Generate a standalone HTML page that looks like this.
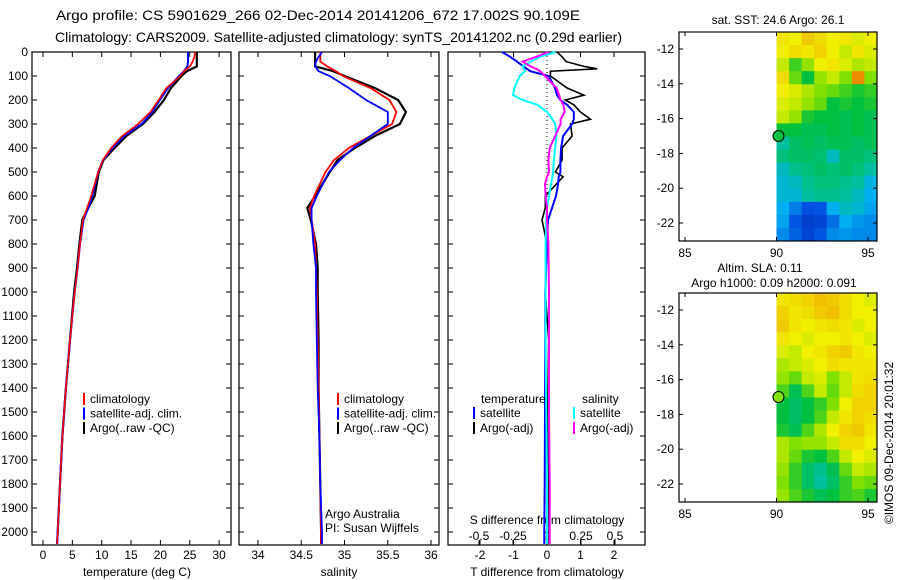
<!DOCTYPE html>
<html><head><meta charset="utf-8"><style>
body{margin:0;background:#fff;}
svg{display:block;font-family:"Liberation Sans",sans-serif;}
text{font-size:12px;fill:#000;}
</style></head><body>
<svg id="chart" width="900" height="580" viewBox="0 0 900 580" xmlns="http://www.w3.org/2000/svg">
<text x="56" y="20" textLength="524" lengthAdjust="spacingAndGlyphs" style="font-size:14px">Argo profile: CS 5901629_266 02-Dec-2014 20141206_672 17.002S 90.109E</text>
<text x="55" y="42" textLength="567" lengthAdjust="spacingAndGlyphs" style="font-size:14px">Climatology: CARS2009. Satellite-adjusted climatology: synTS_20141202.nc (0.29d earlier)</text>
<text x="137" y="576" text-anchor="middle">temperature (deg C)</text>
<text x="339" y="576" text-anchor="middle">salinity</text>
<text x="547" y="576" text-anchor="middle">T difference from climatology</text>
<text x="547" y="524" text-anchor="middle">S difference from climatology</text>
<text x="325" y="518">Argo Australia</text>
<text x="325" y="532">PI: Susan Wijffels</text>
<text x="778" y="24" text-anchor="middle">sat. SST: 24.6 Argo: 26.1</text>
<text x="760" y="272" text-anchor="middle">Altim. SLA: 0.11</text>
<text x="774" y="287" text-anchor="middle">Argo h1000: 0.09 h2000: 0.091</text>
<text transform="translate(893,443) rotate(-90)" text-anchor="middle">©IMOS 09-Dec-2014 20:01:32</text>
<g id="g"></g>
</svg>
<script>
// ---- data ----
const depths = [0,20,40,60,80,100,150,200,250,300,350,400,450,500,600,650,700,800,900,1000,1200,1400,1600,1800,2000,2050];
const tempClim = [25.9,25.8,25.5,25.0,24.0,23.4,21.0,19.7,18.3,16.2,13.5,11.6,10.2,9.4,8.2,7.5,6.8,6.3,5.9,5.4,4.6,3.9,3.3,2.9,2.5,2.4];
const tempSat  = [24.7,24.7,24.7,24.6,24.0,23.2,21.3,19.9,18.6,16.8,13.8,11.8,10.2,9.4,8.4,7.7,6.9,6.3,5.9,5.4,4.6,3.9,3.3,2.9,2.5,2.4];
const tempArgo = [26.2,26.2,26.2,26.2,24.5,23.6,21.8,20.6,19.0,17.0,14.2,12.2,10.3,9.5,8.8,7.7,6.7,6.2,5.8,5.3,4.6,3.9,3.3,2.9,2.5,2.4];
const salClim = [34.72,34.72,34.72,34.80,34.90,34.98,35.30,35.52,35.60,35.55,35.30,35.05,34.88,34.78,34.65,34.60,34.62,34.66,34.67,34.68,34.69,34.70,34.71,34.72,34.73,34.73];
const salSat  = [34.74,34.70,34.67,34.66,34.70,34.83,35.05,35.25,35.50,35.50,35.30,35.10,34.95,34.82,34.68,34.62,34.62,34.64,34.67,34.67,34.68,34.69,34.71,34.72,34.74,34.74];
const salArgo = [34.66,34.66,34.66,34.66,34.87,35.00,35.35,35.62,35.71,35.64,35.35,35.12,34.92,34.83,34.66,34.57,34.61,34.67,34.69,34.69,34.70,34.70,34.71,34.72,34.73,34.73];
const dDepths = [0,20,40,60,70,80,100,150,180,200,220,250,280,300,350,400,450,500,520,550,600,650,700,800,1000,1200,1500,1800,2000,2050];
const dTSat  = [-1.34,-1.1,-0.9,-0.7,-0.6,-0.5,0.05,0.24,0.3,0.4,0.6,0.8,0.8,0.75,0.48,0.42,0.4,0.4,0.35,0.33,0.27,0.15,0.03,0.0,-0.05,-0.05,-0.06,-0.07,-0.08,-0.08];
const dTArgo = [0.3,0.45,0.57,1.1,1.5,0.1,0.1,0.6,1.1,0.55,0.8,1.0,1.3,0.7,0.75,0.45,0.45,0.25,0.48,0.28,-0.05,-0.05,-0.15,0.0,-0.05,0.05,0.02,0.05,0.06,0.06];
const dSSat  = [0.06,-0.05,-0.12,-0.18,-0.17,-0.16,-0.2,-0.24,-0.25,-0.18,-0.07,0.0,0.04,0.06,0.07,0.06,0.05,0.045,0.04,0.03,0.015,0.0,-0.005,-0.01,-0.01,-0.01,-0.005,0.0,0.0,0.0];
const dSArgo = [0.01,-0.08,-0.18,-0.12,-0.08,-0.05,-0.015,0.07,0.09,0.1,0.12,0.13,0.1,0.1,0.06,0.02,0.01,0.015,0.0,-0.015,-0.01,0.0,0.0,0.01,0.015,0.015,0.015,0.02,0.02,0.02];
const depthTicks = [0,100,200,300,400,500,600,700,800,900,1000,1100,1200,1300,1400,1500,1600,1700,1800,1900,2000];
const tempTicks = [0,5,10,15,20,25,30];
const salTicks = [34,34.5,35,35.5,36];
const salTickLabels = ["34","34.5","35","35.5","36"];
const dTTicks = [-2,-1,0,1,2];
const dSTicks = [-0.5,-0.25,0,0.25,0.5];
const dSTickLabels = ["-0.5","-0.25","0","0.25","0.5"];
const latTicks = [-12,-14,-16,-18,-20,-22];
const lonTicks = [85,90,95];
const sstGrid = [
[0.72,0.70,0.78,0.74,0.70,0.72,0.68,0.70],
[0.70,0.74,0.72,0.76,0.70,0.66,0.72,0.68],
[0.66,0.55,0.62,0.70,0.72,0.68,0.64,0.66],
[0.74,0.58,0.50,0.62,0.66,0.60,0.88,0.60],
[0.70,0.68,0.64,0.60,0.58,0.55,0.52,0.54],
[0.68,0.66,0.62,0.58,0.50,0.52,0.50,0.52],
[0.66,0.62,0.52,0.50,0.50,0.48,0.50,0.48],
[0.50,0.50,0.48,0.48,0.50,0.48,0.50,0.48],
[0.40,0.46,0.48,0.46,0.48,0.48,0.46,0.48],
[0.44,0.46,0.46,0.45,0.36,0.46,0.46,0.44],
[0.36,0.42,0.44,0.46,0.44,0.46,0.44,0.40],
[0.34,0.36,0.42,0.44,0.44,0.42,0.40,0.32],
[0.34,0.34,0.40,0.42,0.42,0.40,0.36,0.30],
[0.30,0.22,0.15,0.16,0.30,0.36,0.34,0.28],
[0.28,0.16,0.10,0.12,0.20,0.30,0.26,0.24],
[0.24,0.18,0.12,0.16,0.24,0.26,0.24,0.24]];
const slaGrid = [
[0.72,0.74,0.76,0.80,0.78,0.74,0.70,0.68],
[0.76,0.72,0.74,0.78,0.80,0.74,0.70,0.70],
[0.78,0.72,0.70,0.72,0.74,0.72,0.68,0.70],
[0.72,0.70,0.68,0.70,0.70,0.72,0.70,0.68],
[0.68,0.66,0.70,0.72,0.76,0.78,0.72,0.70],
[0.64,0.66,0.68,0.70,0.74,0.72,0.72,0.72],
[0.62,0.58,0.66,0.68,0.60,0.66,0.72,0.74],
[0.56,0.48,0.56,0.66,0.58,0.66,0.74,0.76],
[0.50,0.46,0.50,0.54,0.60,0.70,0.76,0.76],
[0.50,0.46,0.50,0.56,0.66,0.72,0.76,0.74],
[0.52,0.48,0.56,0.64,0.70,0.76,0.78,0.72],
[0.64,0.60,0.62,0.62,0.66,0.74,0.74,0.70],
[0.64,0.58,0.52,0.50,0.56,0.66,0.70,0.68],
[0.62,0.54,0.46,0.42,0.48,0.58,0.66,0.64],
[0.60,0.54,0.46,0.40,0.46,0.54,0.60,0.58],
[0.62,0.56,0.52,0.48,0.50,0.54,0.56,0.52]];
const floatLon = 90.109, floatLat = -17.002;

// ---- helpers ----
const NS="http://www.w3.org/2000/svg";
const G=document.getElementById('g');
function mk(tag,attrs,parent){const e=document.createElementNS(NS,tag);for(const k in attrs)e.setAttribute(k,attrs[k]);(parent||G).appendChild(e);return e;}
const yD = d => 52 + d*0.24;
const PB = 545;
const panels = [
 {x0:32,x1:231, sx:v=>43+v*5.87, name:'temperature-panel'},
 {x0:239,x1:439, sx:v=>258+(v-34)*86.5, name:'salinity-panel'},
 {x0:448,x1:645, sx:v=>547+v*33.5, name:'difference-panel'}];
const sxS = v=>547+v*136;

function frame(p){
  const r=mk('rect',{x:p.x0,y:52,width:p.x1-p.x0,height:PB-52,fill:'none',stroke:'#000','stroke-width':1.2});
  
  
  depthTicks.forEach(d=>{
    mk('line',{x1:p.x0,x2:p.x0+5,y1:yD(d),y2:yD(d),stroke:'#000'});
    mk('line',{x1:p.x1-5,x2:p.x1,y1:yD(d),y2:yD(d),stroke:'#000'});
  });
}
panels.forEach(frame);
depthTicks.forEach(d=>{
  const t=mk('text',{x:28,y:yD(d)+4,'text-anchor':'end'});t.textContent=d;
  
  
});
function xticks(p,ticks,labels,ty){
  ticks.forEach((v,i)=>{const x=p.sx(v);
    mk('line',{x1:x,x2:x,y1:PB,y2:PB-5,stroke:'#000'});
    mk('line',{x1:x,x2:x,y1:52,y2:57,stroke:'#000'});
    const t=mk('text',{x:x,y:ty,'text-anchor':'middle'});t.textContent=labels?labels[i]:v;
    
    
  });
}
xticks(panels[0],tempTicks,null,559);
xticks(panels[1],salTicks,salTickLabels,559);
xticks(panels[2],dTTicks,null,559);
dSTicks.forEach((v,i)=>{const x=sxS(v);
  mk('line',{x1:x,x2:x,y1:PB,y2:PB-5,stroke:'#000'});
  const t=mk('text',{x:x,y:540,'text-anchor':'middle'});t.textContent=dSTickLabels[i];
  
  
});
const zl=mk('line',{x1:547,x2:547,y1:52,y2:200,stroke:'#000','stroke-dasharray':'1,3'});



function series(dep,vals,sx,color,w,name){
  const pts=dep.map((d,i)=>sx(vals[i]).toFixed(1)+','+yD(d).toFixed(1)).join(' ');
  const l=mk('polyline',{points:pts,fill:'none',stroke:color,'stroke-width':w});
  
  
}
series(depths,tempArgo,panels[0].sx,'#000',2.2,'temp-argo-line');
series(depths,tempSat,panels[0].sx,'#0000ff',2,'temp-satellite-line');
series(depths,tempClim,panels[0].sx,'#ff0000',1.6,'temp-climatology-line');
series(depths,salArgo,panels[1].sx,'#000',2.2,'sal-argo-line');
series(depths,salClim,panels[1].sx,'#ff0000',1.8,'sal-climatology-line');
series(depths,salSat,panels[1].sx,'#0000ff',1.8,'sal-satellite-line');
series(dDepths,dTArgo,panels[2].sx,'#000',1.6,'tdiff-argo-line');
series(dDepths,dTSat,panels[2].sx,'#0000ff',2,'tdiff-satellite-line');
series(dDepths,dSSat,sxS,'#00ffff',2,'sdiff-satellite-line');
series(dDepths,dSArgo,sxS,'#ff00ff',2,'sdiff-argo-line');

function leg(x,y,color,label){
  const b=mk('rect',{x:x,y:y-10,width:2,height:12,fill:color});
  
  
  const t=mk('text',{x:x+7,y:y});t.textContent=label;
  
  
}
[[83,'#f00','climatology'],[83,'#00f','satellite-adj. clim.'],[83,'#000','Argo(..raw -QC)']].forEach((e,i)=>leg(e[0],403+i*14.5,e[1],e[2]));
[[337,'#f00','climatology'],[337,'#00f','satellite-adj. clim.'],[337,'#000','Argo(..raw -QC)']].forEach((e,i)=>leg(e[0],403+i*14.5,e[1],e[2]));
let tt=mk('text',{x:481,y:403});tt.textContent='temperature';


tt=mk('text',{x:582,y:403});tt.textContent='salinity';


leg(473,417,'#00f','satellite');leg(473,432,'#000','Argo(-adj)');
leg(573,417,'#0ff','satellite');leg(573,432,'#f0f','Argo(-adj)');

const stops=[[0,[0,32,160]],[0.15,[0,80,224]],[0.3,[0,176,240]],[0.4,[0,192,160]],[0.5,[0,192,64]],[0.6,[128,224,0]],[0.7,[240,240,0]],[0.8,[240,192,0]],[0.9,[240,128,0]],[1,[208,0,0]]];
function cmap(v){for(let i=1;i<stops.length;i++){if(v<=stops[i][0]){const a=stops[i-1],b=stops[i],f=(v-a[0])/(b[0]-a[0]);return 'rgb('+a[1].map((c,k)=>Math.round(c+(b[1][k]-c)*f)).join(',')+')';}}return 'rgb(208,0,0)';}

function map(y0,y1,grid,name){
  const x0=679,x1=877;
  const sx=lon=>685+(lon-85)*18.3;
  const sy=lat=>y0+17+(-12-lat)*17.4;
  const cw=(x1-sx(90))/grid[0].length, ch=(y1-y0)/grid.length;
  grid.forEach((row,r)=>row.forEach((v,c)=>{
    const cell=mk('rect',{x:sx(90)+c*cw,y:y0+r*ch,width:cw+0.5,height:ch+0.5,fill:cmap(v)});
    
    
  }));
  const f=mk('rect',{x:x0,y:y0,width:x1-x0,height:y1-y0,fill:'none',stroke:'#000','stroke-width':1.2});
  
  
  latTicks.forEach(l=>{const y=sy(l);
    mk('line',{x1:x0,x2:x0+4,y1:y,y2:y,stroke:'#000'});mk('line',{x1:x1-4,x2:x1,y1:y,y2:y,stroke:'#000'});
    const t=mk('text',{x:x0-5,y:y+4,'text-anchor':'end'});t.textContent=l;
    
    
  });
  lonTicks.forEach(l=>{const x=sx(l);
    mk('line',{x1:x,x2:x,y1:y1,y2:y1-4,stroke:'#000'});mk('line',{x1:x,x2:x,y1:y0,y2:y0+4,stroke:'#000'});
    const t=mk('text',{x:x,y:y1+16,'text-anchor':'middle'});t.textContent=l;
    
    
  });
  const c=mk('circle',{cx:sx(floatLon),cy:sy(floatLat),r:5.5,fill:name==='sst-map'?'#00c040':'#80e000',stroke:'#000','stroke-width':1});
  
  
}
map(32,241,sstGrid,'sst-map');
map(293,502,slaGrid,'sla-map');
</script>
</body></html>
